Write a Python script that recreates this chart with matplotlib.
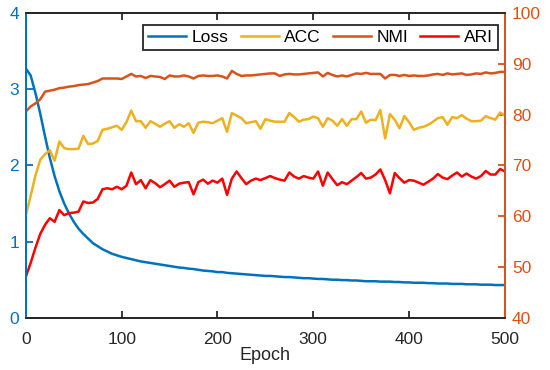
import matplotlib
matplotlib.use("Agg")
import matplotlib.pyplot as plt

plt.rcParams['font.family'] = ['Liberation Sans', 'DejaVu Sans']

# epochs sampled every 5
epochs = list(range(0, 501, 5))

loss = [3.27, 3.18, 2.95, 2.68, 2.38, 2.10, 1.86, 1.66, 1.50, 1.37,
        1.26, 1.17, 1.10, 1.04, 0.98, 0.94, 0.90, 0.87, 0.84, 0.82,
        0.80, 0.785, 0.77, 0.755, 0.74, 0.73, 0.72, 0.71, 0.70, 0.69,
        0.68, 0.67, 0.66, 0.655, 0.645, 0.64, 0.63, 0.62, 0.615, 0.61,
        0.60, 0.60, 0.59, 0.585, 0.58, 0.575, 0.57, 0.565, 0.56, 0.555,
        0.55, 0.55, 0.545, 0.54, 0.535, 0.535, 0.53, 0.525, 0.52, 0.52,
        0.515, 0.51, 0.51, 0.505, 0.50, 0.50, 0.495, 0.495, 0.49, 0.49,
        0.485, 0.48, 0.48, 0.48, 0.475, 0.475, 0.475, 0.47, 0.47, 0.465,
        0.465, 0.46, 0.46, 0.46, 0.455, 0.455, 0.45, 0.45, 0.45, 0.445,
        0.445, 0.445, 0.44, 0.44, 0.44, 0.435, 0.435, 0.435, 0.43, 0.43,
        0.43]

acc = [60.2, 64.0, 68.0, 71.1, 72.2, 73.0, 70.9, 74.7, 73.4, 73.2,
       73.2, 73.3, 75.8, 74.2, 74.3, 74.8, 77.0, 77.2, 77.5, 77.8,
       77.0, 78.5, 80.8, 78.7, 78.7, 77.4, 78.7, 78.2, 77.6, 78.2,
       78.7, 77.4, 78.1, 77.6, 78.3, 76.4, 78.4, 78.6, 78.5, 78.3,
       78.8, 79.3, 76.6, 80.3, 79.8, 79.3, 78.3, 78.5, 78.7, 77.2,
       79.1, 78.8, 78.6, 78.6, 78.6, 80.3, 79.5, 78.6, 79.0, 79.1,
       79.6, 79.3, 77.6, 79.3, 78.8, 77.8, 79.1, 77.8, 79.1, 79.1,
       80.6, 78.4, 79.0, 78.9, 80.9, 75.3, 80.1, 79.0, 77.3, 79.7,
       78.5, 77.0, 77.4, 77.6, 78.0, 78.6, 79.3, 79.5, 78.0, 79.5,
       79.3, 79.9, 79.2, 78.7, 78.7, 78.8, 79.7, 79.3, 79.0, 80.4,
       79.8]

nmi = [80.6, 81.6, 82.2, 83.0, 84.5, 84.7, 84.9, 85.2, 85.3, 85.5,
       85.6, 85.8, 85.9, 86.0, 86.3, 86.6, 87.1, 87.1, 87.1, 87.1,
       87.0, 87.5, 88.0, 87.5, 87.6, 87.2, 87.6, 87.5, 87.4, 87.0,
       87.7, 87.5, 87.5, 87.7, 87.5, 87.1, 87.6, 87.7, 87.6, 87.6,
       87.7, 87.5, 87.1, 88.6, 88.0, 87.6, 87.7, 87.7, 87.8, 87.9,
       88.0, 88.1, 88.1, 87.6, 87.9, 88.0, 87.9, 87.9, 88.0, 88.1,
       88.2, 88.3, 87.5, 88.2, 87.8, 87.5, 87.7, 87.5, 87.8, 88.1,
       88.0, 88.2, 88.0, 88.0, 88.0, 87.1, 87.8, 87.8, 87.6, 87.8,
       87.6, 87.7, 87.6, 87.6, 87.7, 87.9, 88.0, 87.8, 88.1, 87.9,
       88.0, 88.1, 87.8, 87.9, 88.1, 88.0, 88.3, 88.1, 88.2, 88.4,
       88.4]

ari = [48.1, 50.8, 53.8, 56.5, 58.3, 59.6, 58.9, 61.2, 60.2, 60.6,
       60.7, 60.9, 62.9, 62.6, 62.7, 63.4, 65.3, 65.5, 65.3, 65.8,
       65.3, 66.0, 68.6, 66.3, 67.1, 65.5, 67.1, 66.5, 65.7, 66.3,
       67.0, 65.8, 66.4, 66.6, 66.7, 64.3, 66.7, 67.2, 66.4, 67.0,
       66.6, 67.4, 64.2, 67.4, 68.8, 67.5, 66.3, 67.0, 67.4, 67.1,
       67.5, 67.9, 67.5, 67.2, 67.0, 68.6, 67.8, 67.4, 67.9, 67.6,
       67.4, 68.8, 66.0, 68.6, 67.3, 66.1, 66.7, 66.3, 67.0, 67.7,
       68.5, 67.4, 67.6, 68.2, 69.2, 67.1, 64.5, 68.5, 67.5, 66.6,
       67.1, 67.0, 66.6, 66.2, 66.8, 67.4, 68.3, 67.6, 67.3, 68.0,
       68.6, 67.8, 68.4, 67.8, 67.4, 67.9, 68.9, 68.2, 68.2, 69.3,
       68.8]

blue = '#0072BD'
orange = '#D95319'
yellow = '#EDB120'
red = '#FF0000'
dark = '#262626'

fig = plt.figure(figsize=(5.5, 3.7), dpi=100)
ax = fig.add_axes([0.047, 0.141, 0.871, 0.824])
ax2 = ax.twinx()

l1, = ax.plot(epochs, loss, color=blue, lw=1.8, label='Loss')
l2, = ax2.plot(epochs, acc, color=yellow, lw=1.8, label='ACC')
l3, = ax2.plot(epochs, nmi, color=orange, lw=1.8, label='NMI')
l4, = ax2.plot(epochs, ari, color=red, lw=1.8, label='ARI')

ax.set_xlim(0, 500)
ax.set_ylim(0, 4)
ax2.set_ylim(40, 100)
ax.set_xticks([0, 100, 200, 300, 400, 500])
ax.set_yticks([0, 1, 2, 3, 4])
ax2.set_yticks([40, 50, 60, 70, 80, 90, 100])

for a in (ax, ax2):
    for s in a.spines.values():
        s.set_linewidth(1.3)
    a.spines['top'].set_color(dark)
    a.spines['bottom'].set_color(dark)
    a.spines['left'].set_color(blue)
    a.spines['right'].set_color(orange)

ax.tick_params(axis='x', direction='in', top=True, length=5, width=1.3,
               colors=dark, labelsize=12.5, pad=10.5)
ax.tick_params(axis='y', direction='in', length=5, width=1.3,
               colors=blue, labelsize=12.5, pad=5)
ax2.tick_params(axis='y', direction='in', length=5, width=1.3,
                colors=orange, labelsize=12.5, pad=5)

ax.set_xlabel('Epoch', fontsize=13, color=dark, labelpad=0)

leg = ax2.legend(handles=[l1, l2, l3, l4], loc='upper right',
                 bbox_to_anchor=(0.985, 0.962), ncol=4, fontsize=12.5,
                 frameon=True, fancybox=False, framealpha=1,
                 edgecolor=dark, handlelength=2.2, handletextpad=0.3,
                 columnspacing=0.7, borderpad=0.3, borderaxespad=0)
leg.get_frame().set_linewidth(1.3)

fig.savefig('out.png', dpi=100)
